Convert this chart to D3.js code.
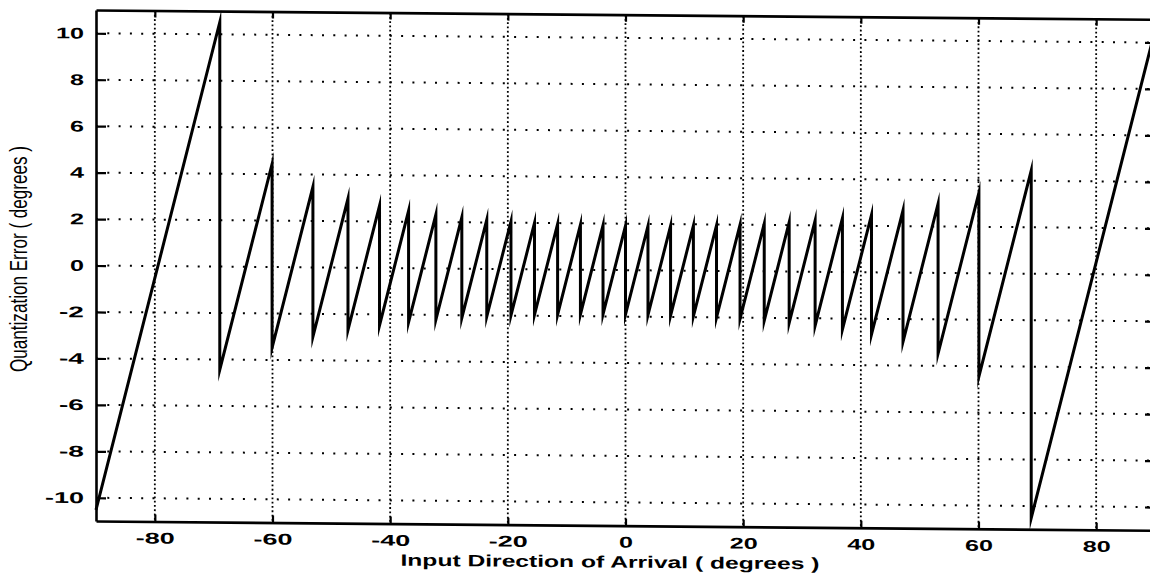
<!DOCTYPE html>
<html><head><meta charset="utf-8">
<script src="https://cdn.jsdelivr.net/npm/d3@7"></script>
<style>body{margin:0;background:#fff;overflow:hidden}</style>
</head><body>
<svg id="c" width="1150" height="576"></svg>
<script>
// ---- data ----
const xTicks = [-80, -60, -40, -20, 0, 20, 40, 60, 80];
const yTicks = [-10, -8, -6, -4, -2, 0, 2, 4, 6, 8, 10];
// angles (deg) where the quantized estimate jumps (plus the two ends)
const breakAngles = [-90, -68.96, -60.07, -53.13, -47.17, -41.81, -36.87, -32.23, -27.82, -23.58,
  -19.47, -15.47, -11.54, -7.66, -3.82, 0, 3.82, 7.66, 11.54, 15.47, 19.47, 23.58, 27.82,
  32.23, 36.87, 41.81, 47.17, 53.13, 60.07, 68.96, 90];
// error at the start of each segment (just after a jump)
const troughErr = [-10.52, -4.44, -3.47, -2.98, -2.68, -2.47, -2.32, -2.21, -2.12, -2.05, -2.00,
  -1.96, -1.94, -1.92, -1.91, -1.91, -1.92, -1.94, -1.96, -2.00, -2.05, -2.12, -2.21, -2.32,
  -2.47, -2.68, -2.98, -3.47, -4.44, -10.52];
// error at the end of each segment (just before a jump)
const peakErr = [10.52, 4.44, 3.47, 2.98, 2.68, 2.47, 2.32, 2.21, 2.12, 2.05, 2.00, 1.96, 1.94,
  1.92, 1.91, 1.91, 1.92, 1.94, 1.96, 2.00, 2.05, 2.12, 2.21, 2.32, 2.47, 2.68, 2.98, 3.47,
  4.44, 10.52];
const xLabel = "Input Direction of Arrival ( degrees )";
const yLabel = "Quantization Error ( degrees )";

// ---- layout ----
const svg = d3.select("#c");
const x = d3.scaleLinear().domain([-90, 90]).range([96, 1155]);
const y = d3.scaleLinear().domain([-11, 11]).range([521, 10]);
const skewT = 0.0088;
const skewDeg = Math.atan(skewT) * 180 / Math.PI;
const g = svg.append("g")
  .attr("transform", `translate(0,${-96 * skewT}) skewY(${skewDeg})`);

function stretch(sel, widthFn) {
  sel.each(function () {
    const w = widthFn(this.textContent);
    d3.select(this).attr("textLength", w).attr("lengthAdjust", "spacingAndGlyphs");
  });
}
const numWidth = s => s.split("").reduce((a, c) => a + (c === "-" ? 11 : 14), 0);

// grid
g.append("g").selectAll("line").data(yTicks).join("line")
  .attr("x1", x(-90)).attr("x2", x(90))
  .attr("y1", d => y(d)).attr("y2", d => y(d))
  .attr("stroke", "#000").attr("stroke-width", 2).attr("stroke-dasharray", "2 9.3");
g.append("g").selectAll("line").data(xTicks).join("line")
  .attr("x1", d => x(d)).attr("x2", d => x(d))
  .attr("y1", y(11)).attr("y2", y(-11))
  .attr("stroke", "#000").attr("stroke-width", 1.8).attr("stroke-dasharray", "1.8 2.5");

// axes (inward ticks on all four sides)
const fmt = d => d < 0 ? "-" + Math.abs(d) : String(d);
const axB = g.append("g").attr("transform", `translate(0,${y(-11)})`)
  .call(d3.axisBottom(x).tickValues(xTicks).tickSizeInner(-7).tickSizeOuter(0).tickPadding(11).tickFormat(fmt));
const axT = g.append("g").attr("transform", `translate(0,${y(11)})`)
  .call(d3.axisTop(x).tickValues(xTicks).tickSizeInner(-7).tickSizeOuter(0).tickFormat(""));
const axL = g.append("g").attr("transform", `translate(${x(-90)},0)`)
  .call(d3.axisLeft(y).tickValues(yTicks).tickSizeInner(-10).tickSizeOuter(0).tickPadding(12).tickFormat(fmt));
const axR = g.append("g").attr("transform", `translate(${x(90)},0)`)
  .call(d3.axisRight(y).tickValues(yTicks).tickSizeInner(-10).tickSizeOuter(0).tickFormat(""));
[axB, axT, axL, axR].forEach(a => {
  a.select(".domain").attr("stroke", "#000").attr("stroke-width", 2.6);
  a.selectAll(".tick line").attr("stroke", "#000").attr("stroke-width", 2.2);
  a.selectAll("text").attr("font-family", "Liberation Sans, Arial, sans-serif")
    .attr("font-weight", "bold").attr("font-size", 15.5).attr("fill", "#000");
});
stretch(axB.selectAll(".tick text"), numWidth);
stretch(axL.selectAll(".tick text"), numWidth);

// data line
const pts = [];
for (let i = 0; i < peakErr.length; i++) {
  pts.push([breakAngles[i], troughErr[i]]);
  pts.push([breakAngles[i + 1], peakErr[i]]);
}
g.append("path").datum(pts)
  .attr("d", d3.line().x(d => x(d[0])).y(d => y(d[1])))
  .attr("fill", "none").attr("stroke", "#000").attr("stroke-width", 3)
  .attr("stroke-linejoin", "miter").attr("stroke-miterlimit", 10);

// axis titles
const xt = g.append("text").attr("x", 610).attr("y", 563).attr("text-anchor", "middle")
  .attr("font-family", "Liberation Sans, Arial, sans-serif").attr("font-weight", "bold")
  .attr("font-size", 16.5).text(xLabel);
xt.attr("textLength", 419).attr("lengthAdjust", "spacingAndGlyphs");
svg.append("text").attr("transform", "translate(27,259) rotate(-90)").attr("text-anchor", "middle")
  .attr("font-family", "Liberation Sans Narrow, Liberation Sans, Arial, sans-serif")
  .attr("font-size", 23).attr("textLength", 226).attr("lengthAdjust", "spacingAndGlyphs")
  .text(yLabel);
</script>
</body></html>
